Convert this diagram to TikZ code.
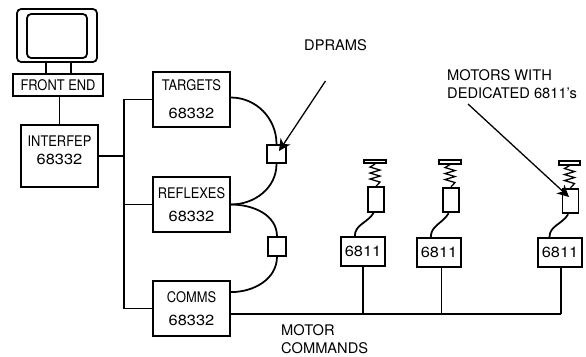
\documentclass[tikz,border=0pt]{standalone}
\usepackage{fontspec}
\setmainfont{TeX Gyre Heros}
\newfontfamily\narrowlbl[FakeStretch=0.88]{TeX Gyre Heros}
\newfontfamily\widelbl[FakeStretch=1.12]{TeX Gyre Heros}
\usetikzlibrary{arrows.meta}
\tikzset{
	cpubox/.style={draw, line width=1.5pt, minimum width=2.31cm, minimum height=1.65cm, align=center, inner sep=0pt},
	ctrlbox/.style={draw, line width=1.5pt, minimum width=1.32cm, minimum height=0.87cm, inner sep=0pt},
	dprambox/.style={draw, line width=1.5pt, minimum width=0.55cm, minimum height=0.55cm, inner sep=0pt},
	motorbox/.style={draw, line width=1.5pt, minimum width=0.48cm, minimum height=0.74cm, inner sep=0pt},
	platebox/.style={draw, line width=1.5pt, minimum width=0.64cm, minimum height=0.1cm, inner sep=0pt},
	wire/.style={line width=1.5pt},
	callout/.style={line width=1.1pt, -{Stealth[length=10pt,width=10pt,inset=3pt]}},
	spring/.style={line width=1.1pt, line join=miter}
}
\begin{document}
\begin{tikzpicture}[x=0.03cm, y=-0.03cm, font=\fontsize{12.5}{15}\selectfont]
	\useasboundingbox (0,0) rectangle (586,356);

	% screen and front end
	\node[draw, line width=1.5pt, rounded corners=3.5pt, minimum width=2.4cm, minimum height=1.59cm] (casing) at (57,35.5) {};
	\node[draw, line width=1.5pt, rounded corners=3.5pt, minimum width=1.8cm, minimum height=1.32cm] (screen) at (57,36) {};
	\node[draw, line width=1.5pt, minimum width=0.75cm, minimum height=0.33cm] (neck) at (58.5,68) {};
	\node[draw, line width=1.5pt, minimum width=2.7cm, minimum height=0.66cm, inner sep=0pt] (frontend) at (58,85) {\raisebox{-1.5pt}{\narrowlbl FRONT END}};

	\node[cpubox, minimum height=1.86cm] (interfep) at (59.5,156) {\narrowlbl INTERFEP\\\widelbl 68332\\[-5pt]\mbox{}};
	\node[cpubox] (targets) at (191.5,99.5) {\narrowlbl TARGETS\\[9pt]\widelbl 68332};
	\node[cpubox] (reflexes) at (191.5,204.5) {\narrowlbl REFLEXES\\[5pt]\widelbl 68332};
	\node[cpubox] (comms) at (191.5,308.5) {\narrowlbl COMMS\\[5pt]\widelbl 68332};

	\node[dprambox] (dprama) at (276.5,154) {};
	\node[dprambox] (dpramb) at (277,246.5) {};

	% motors
	\node[ctrlbox] (ctrla) at (363,251.5) {\widelbl 6811};
	\node[ctrlbox] (ctrlb) at (439,252.5) {\widelbl 6811};
	\node[ctrlbox] (ctrlc) at (560,252.5) {\widelbl 6811};
	\node[motorbox] (motora) at (376,199.5) {};
	\node[motorbox] (motorb) at (451,200) {};
	\node[motorbox] (motorc) at (570.5,201) {};
	\node[platebox] (platea) at (375,161.5) {};
	\node[platebox] (plateb) at (450,162) {};
	\node[platebox] (platec) at (569.5,163) {};

	% labels
	\node (lbldpram) at (335.5,45) {DPRAMS};
	\node[align=left, anchor=north west, inner sep=0pt] (lblmotors) at (447,69) {MOTORS WITH\\[1pt]DEDICATED 6811's};
	\node[align=left, anchor=north west, inner sep=0pt] (lblcmd) at (281,324) {MOTOR\\[1pt]COMMANDS};

	\coordinate (busa) at (124,99.5);
	\coordinate (busb) at (124,156);
	\coordinate (busc) at (124,204.5);
	\coordinate (busd) at (124,308.5);
	\coordinate (cmdend) at (561,314);
	\coordinate (tapa) at (363,314);
	\coordinate (tapb) at (441.5,314);
	\coordinate (arrowa) at (325.5,81);
	\coordinate (arrowb) at (468,104);
	\coordinate (tipa) at (279,151);
	\coordinate (tipb) at (569,197);

	\draw[wire] (targets.west) -- (busa) -- (busd) -- (comms.west);
	\draw[wire] (interfep.east) -- (busb);
	\draw[wire] (reflexes.west) -- (busc);
	\draw[wire] (frontend.south -| interfep) -- (interfep.north);
	\draw[wire] (comms.east |- cmdend) -- (cmdend);
	\draw[wire] (ctrla.south -| tapa) -- (tapa);
	\draw[wire] (ctrlb.south -| tapb) -- (tapb);
	\draw[wire] (ctrlc.south -| cmdend) -- (cmdend);

	\path ([yshift=1.7pt]targets.east) edge[wire, out=0, in=90] (dprama.north)
	(reflexes.east) edge[wire, out=0, in=-90] (dprama.south)
	(reflexes.east) edge[wire, out=0, in=90] (dpramb.north)
	([yshift=14pt]comms.east) edge[wire, out=0, in=-90] (dpramb.south);

	\draw[wire] ([xshift=-2pt]motora.south) to[out=-120, in=90] ([xshift=-7pt]ctrla.north);
	\draw[wire] ([xshift=-2pt]motorb.south) to[out=-120, in=90] ([xshift=-7pt]ctrlb.north);
	\draw[wire] ([xshift=-2pt]motorc.south) to[out=-120, in=90] ([xshift=-9pt]ctrlc.north);

	\draw[spring] (platea.south) -- ++(-5,3) -- ++(10,3) -- ++(-10,3) -- ++(10,3) -- ++(-10,3) -- ++(10,3) -- (motora.north);
	\draw[spring] (plateb.south) -- ++(-5,3) -- ++(10,3) -- ++(-10,3) -- ++(10,3) -- ++(-10,3) -- ++(10,3) -- (motorb.north);
	\draw[spring] (platec.south) -- ++(-5,3) -- ++(10,3) -- ++(-10,3) -- ++(10,3) -- ++(-10,3) -- ++(10,3) -- (motorc.north);

	\draw[callout] (arrowa) -- (tipa);
	\draw[callout] (arrowb) -- (tipb);
\end{tikzpicture}
\end{document}
